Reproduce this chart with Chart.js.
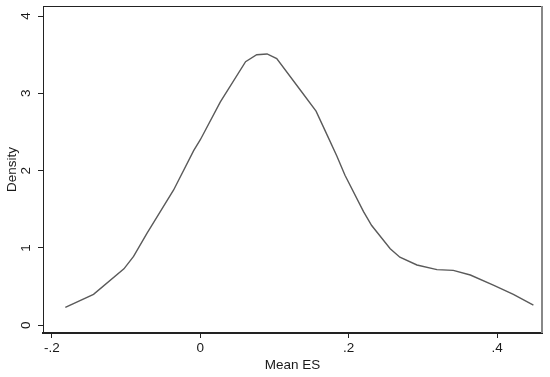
<!DOCTYPE html>
<html>
<head>
<meta charset="utf-8">
<script src="https://cdn.jsdelivr.net/npm/chart.js@4"></script>
<style>
  html, body { margin: 0; padding: 0; background: #fff; }
  #wrap { width: 550px; height: 377px; }
</style>
</head>
<body>
<div id="wrap"><canvas id="c"></canvas></div>
<script>
// kernel density of Mean ES
const meanES = [-0.182, -0.144, -0.103, -0.090, -0.072, -0.054, -0.036, -0.009, 0.000, 0.027,
  0.061, 0.076, 0.090, 0.103, 0.135, 0.156, 0.171, 0.184, 0.195, 0.220,
  0.231, 0.256, 0.269, 0.292, 0.319, 0.341, 0.364, 0.395, 0.422, 0.449];
const density = [0.23, 0.40, 0.73, 0.89, 1.19, 1.47, 1.75, 2.26, 2.40, 2.89,
  3.41, 3.50, 3.51, 3.45, 3.04, 2.77, 2.46, 2.19, 1.94, 1.47,
  1.29, 0.99, 0.88, 0.78, 0.72, 0.71, 0.65, 0.52, 0.40, 0.26];

const xTicks = [-0.2, 0, 0.2, 0.4];
const xTickLabels = ['-.2', '0', '.2', '.4'];
const yTicks = [0, 1, 2, 3, 4];
const yTickLabels = ['0', '1', '2', '3', '4'];

const FONT = "'Liberation Sans', Arial, Helvetica, sans-serif";
const INK = '#1a1a1a';

// box around the plot region plus rotated y tick labels (Stata style)
const framePlugin = {
  id: 'frame',
  afterDatasetsDraw(chart) {
    const { ctx, chartArea: a, scales } = chart;
    ctx.save();
    ctx.strokeStyle = '#222';
    ctx.lineWidth = 1;
    ctx.beginPath();
    ctx.moveTo(a.left, a.top + 0.5);
    ctx.lineTo(a.right, a.top + 0.5);
    ctx.stroke();
    ctx.strokeStyle = '#888';
    ctx.lineWidth = 2;
    ctx.beginPath();
    ctx.moveTo(a.right, a.top);
    ctx.lineTo(a.right, a.bottom);
    ctx.stroke();

    ctx.fillStyle = INK;
    ctx.font = '13.5px ' + FONT;
    ctx.textAlign = 'center';
    ctx.textBaseline = 'alphabetic';
    yTicks.forEach((v, i) => {
      const py = scales.y.getPixelForValue(v);
      ctx.save();
      ctx.translate(30, py);
      ctx.rotate(-Math.PI / 2);
      ctx.fillText(yTickLabels[i], 0, 0);
      ctx.restore();
    });
    ctx.restore();
  }
};

new Chart(document.getElementById('c'), {
  type: 'line',
  data: {
    datasets: [{
      data: meanES.map((x, i) => ({ x: x, y: density[i] })),
      borderColor: '#5a5a5a',
      borderWidth: 1.4,
      pointRadius: 0,
      fill: false,
      tension: 0
    }]
  },
  options: {
    responsive: true,
    maintainAspectRatio: false,
    animation: false,
    layout: { padding: { top: 6, right: 8, bottom: 0, left: 0 } },
    plugins: { legend: { display: false }, tooltip: { enabled: false } },
    scales: {
      x: {
        type: 'linear',
        min: -0.2121,
        max: 0.4606,
        afterBuildTicks: s => { s.ticks = xTicks.map(v => ({ value: v })); },
        afterFit: s => { s.height = 44; },
        ticks: {
          color: INK,
          font: { family: FONT, size: 13.5 },
          padding: 2,
          maxRotation: 0,
          autoSkip: false,
          callback: v => xTickLabels[xTicks.indexOf(v)]
        },
        grid: { drawOnChartArea: false, tickLength: 5, tickColor: '#222', tickWidth: 1 },
        border: { display: true, color: '#222', width: 2 },
        title: {
          display: true, text: 'Mean ES', color: INK,
          font: { family: FONT, size: 13.5 }, padding: { top: 0, bottom: 4 }
        }
      },
      y: {
        min: -0.1,
        max: 4.13,
        afterBuildTicks: s => { s.ticks = yTicks.map(v => ({ value: v })); },
        afterFit: s => { s.width = 43; },
        ticks: { display: false },
        grid: { drawOnChartArea: false, tickLength: 5, tickColor: '#222', tickWidth: 1 },
        border: { display: true, color: '#222', width: 1 },
        title: {
          display: true, text: 'Density', color: INK,
          font: { family: FONT, size: 13.5 }, padding: { top: 4, bottom: 0 }
        }
      }
    }
  },
  plugins: [framePlugin]
});
</script>
</body>
</html>
